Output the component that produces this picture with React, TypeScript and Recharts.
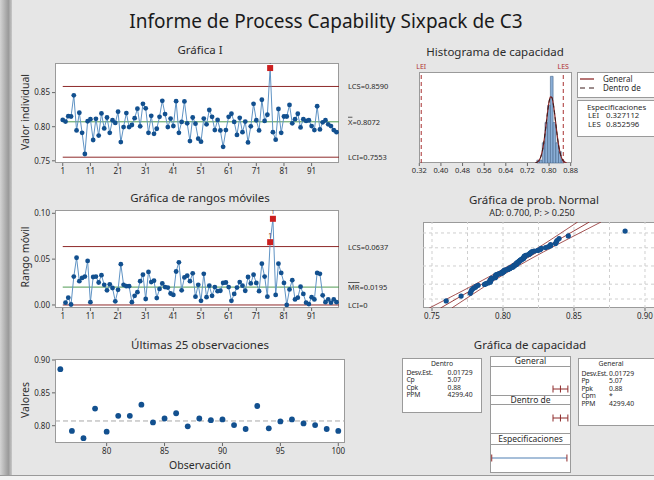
import type { ReactNode } from "react";
import {
  LineChart,
  Line,
  XAxis,
  YAxis,
  ReferenceLine,
  ScatterChart,
  Scatter,
  ComposedChart,
  ReferenceArea,
} from "recharts";

const FONT = '"Noto Sans", "Open Sans", sans-serif';
const INK = "#2b2b2b";
const LIMIT = "#8e2a2a";
const CENTER = "#4f9a52";
const DOT = "#12508f";
const TRACE = "#5f93c4";
const FLAG = "#cc1f1f";

// individual values, observations 1..100
const values = [
  0.81, 0.8075, 0.8155, 0.815, 0.846, 0.7945, 0.8205, 0.791, 0.76, 0.808,
  0.811, 0.7805, 0.8115, 0.787, 0.8195, 0.7975, 0.8135, 0.791, 0.8095, 0.8055,
  0.822, 0.7775, 0.7995, 0.82, 0.7995, 0.8025, 0.8125, 0.8265, 0.8005, 0.8335,
  0.827, 0.791, 0.816, 0.7895, 0.797, 0.8145, 0.838, 0.8185, 0.7995, 0.812,
  0.801, 0.8375, 0.791, 0.807, 0.837, 0.805, 0.779, 0.8135, 0.8045, 0.7825,
  0.778, 0.812, 0.8035, 0.8245, 0.8145, 0.795, 0.81, 0.7945, 0.7705, 0.795,
  0.8145, 0.819, 0.807, 0.788, 0.813, 0.792, 0.8075, 0.777, 0.8005, 0.8335,
  0.8095, 0.7945, 0.8395, 0.8085, 0.8175, 0.886, 0.792, 0.781, 0.826, 0.791,
  0.815, 0.815, 0.832, 0.805, 0.811, 0.819, 0.799, 0.811, 0.8085, 0.8095,
  0.801, 0.795, 0.83, 0.796, 0.8065, 0.8095, 0.8035, 0.801, 0.795, 0.792,
];

// moving ranges, observations 2..100
const movingRanges = [
  0.0025, 0.008, 0.0005, 0.031, 0.0515, 0.026, 0.0295, 0.031, 0.048,
  0.003, 0.0305, 0.031, 0.0245, 0.0325, 0.022, 0.016, 0.0225, 0.0185, 0.004,
  0.0165, 0.0445, 0.022, 0.0205, 0.0205, 0.003, 0.01, 0.014, 0.026, 0.033,
  0.0065, 0.036, 0.025, 0.0265, 0.0075, 0.0175, 0.0235, 0.0195, 0.019, 0.0125,
  0.011, 0.0365, 0.0465, 0.016, 0.03, 0.032, 0.026, 0.0345, 0.009, 0.022,
  0.0045, 0.034, 0.0085, 0.021, 0.01, 0.0195, 0.015, 0.0155, 0.024, 0.0245,
  0.0195, 0.0045, 0.012, 0.019, 0.025, 0.021, 0.0155, 0.0305, 0.0235, 0.033,
  0.024, 0.015, 0.045, 0.031, 0.009, 0.0685, 0.094, 0.011, 0.045, 0.035,
  0.024, 0.0, 0.017, 0.027, 0.006, 0.008, 0.02, 0.012, 0.0025, 0.001,
  0.0085, 0.006, 0.035, 0.034, 0.0105, 0.003, 0.006, 0.0025, 0.006, 0.003,
];

const obsTicks = [1, 11, 21, 31, 41, 51, 61, 71, 81, 91];
const iLimits = { lcs: 0.859, center: 0.8072, lci: 0.7553 };
const mrLimits = { lcs: 0.0637, center: 0.0195, lci: 0 };
const iFlagged = [76];
const mrFlagged = [76, 77];
const lastTicks = [80, 85, 90, 95, 100];

// capability histogram
const histCenters = [0.76, 0.77, 0.78, 0.79, 0.8, 0.81, 0.82, 0.83, 0.84, 0.85, 0.86, 0.87, 0.88];
const histCounts = [1, 1, 7, 14, 20, 30, 14, 7, 4, 1, 0, 0, 1];
const histBinWidth = 0.01;
const histTicks = [0.32, 0.4, 0.48, 0.56, 0.64, 0.72, 0.8, 0.88];
const curveX = [
  0.75, 0.755, 0.76, 0.765, 0.77, 0.775, 0.78, 0.785, 0.79, 0.795, 0.8, 0.805,
  0.81, 0.815, 0.82, 0.825, 0.83, 0.835, 0.84, 0.845, 0.85, 0.855, 0.86, 0.865,
];
const curveY = [
  0.1, 0.24, 0.56, 1.17, 2.28, 4.07, 6.69, 10.12, 14.07, 17.99, 21.15, 22.88,
  22.77, 20.84, 17.54, 13.58, 9.67, 6.33, 3.82, 2.11, 1.08, 0.51, 0.22, 0.09,
];
const lei = 0.327112;
const les = 0.852596;

// normal probability plot
const probTicks = [0.75, 0.8, 0.85, 0.9];
const probGridX = [0.75, 0.775, 0.8, 0.825, 0.85, 0.875, 0.9];
const probGridZ = [-2.326, -1.282, 0, 1.282, 2.326];
const fitZ = [-2.96, -2, -1, 0, 1, 2, 3.1];
const fitCenter = [0.75602, 0.77262, 0.78991, 0.8072, 0.82449, 0.84178, 0.8608];
const fitLower = [0.74812, 0.76673, 0.78575, 0.8038, 0.82033, 0.83589, 0.85258];
const fitUpper = [0.76392, 0.77851, 0.79407, 0.8106, 0.82865, 0.84767, 0.86902];

// capability plot
const capOverall = [0.7553, 0.8072, 0.8591];
const capWithin = [0.7553, 0.8072, 0.8591];
const capSpec = [lei, les];

const withinStats = [
  ["Desv.Est.", "0.01729"],
  ["Cp", "5.07"],
  ["Cpk", "0.88"],
  ["PPM", "4299.40"],
];
const overallStats = [
  ["Desv.Est.", "0.01729"],
  ["Pp", "5.07"],
  ["Ppk", "0.88"],
  ["Cpm", "*"],
  ["PPM", "4299.40"],
];

const iRows = values.map((v, i) => ({ obs: i + 1, v }));
const mrRows = movingRanges.map((v, i) => ({ obs: i + 2, v }));
const lastRows = iRows.slice(-25);
const curveRows = curveX.map((x, i) => ({ x, y: curveY[i] }));

function invNorm(p: number): number {
  const a = [-39.69683028665376, 220.9460984245205, -275.9285104469687, 138.357751867269, -30.66479806614716, 2.506628277459239];
  const b = [-54.47609879822406, 161.5858368580409, -155.6989798598866, 66.80131188771972, -13.28068155288572];
  const c = [-0.007784894002430293, -0.3223964580411365, -2.400758277161838, -2.549732539343734, 4.374664141464968, 2.938163982698783];
  const d = [0.007784695709041462, 0.3224671290700398, 2.445134137142996, 3.754408661907416];
  const lo = 0.02425;
  if (p < lo) {
    const q = Math.sqrt(-2 * Math.log(p));
    return (((((c[0] * q + c[1]) * q + c[2]) * q + c[3]) * q + c[4]) * q + c[5]) / ((((d[0] * q + d[1]) * q + d[2]) * q + d[3]) * q + 1);
  }
  if (p > 1 - lo) return -invNorm(1 - p);
  const q = p - 0.5;
  const r = q * q;
  return ((((((a[0] * r + a[1]) * r + a[2]) * r + a[3]) * r + a[4]) * r + a[5]) * q) / (((((b[0] * r + b[1]) * r + b[2]) * r + b[3]) * r + b[4]) * r + 1);
}

const sorted = [...values].sort((p, q) => p - q);
const probRows = sorted.map((x, i) => ({ x, z: invNorm((i + 1 - 0.3) / (sorted.length + 0.4)) }));
const fitRows = (xs: number[]) => xs.map((x, i) => ({ x, z: fitZ[i] }));

const tick = { fontSize: 8, fill: INK, fontFamily: FONT };
const smallTick = { fontSize: 7.5, fill: INK, fontFamily: FONT };

function Txt(props: { x: number; y: number; size?: number; rotate?: boolean; color?: string; children: ReactNode }) {
  const { x, y, size = 11.5, rotate = false, color = INK, children } = props;
  return (
    <div
      style={{
        position: "absolute",
        left: x,
        top: y,
        transform: `translate(-50%, -50%)${rotate ? " rotate(-90deg)" : ""}`,
        fontSize: size,
        color,
        whiteSpace: "nowrap",
        lineHeight: 1,
      }}
    >
      {children}
    </div>
  );
}

function Box({ x, y, w, h }: { x: number; y: number; w: number; h: number }) {
  return (
    <div
      style={{
        position: "absolute",
        left: x,
        top: y,
        width: w,
        height: h,
        background: "#fff",
        border: "1px solid #9a9a9a",
        boxSizing: "border-box",
      }}
    />
  );
}

function At({ x, y, children }: { x: number; y: number; children: ReactNode }) {
  return <div style={{ position: "absolute", left: x, top: y }}>{children}</div>;
}

function sideLabel(content: ReactNode) {
  return (props: any) => {
    const vb = props.viewBox || {};
    return (
      <text x={vb.x + vb.width + 9} y={vb.y} dy={3} fontSize={7.5} fill={INK} fontFamily={FONT}>
        {content}
      </text>
    );
  };
}

function controlDot(flagged: number[]) {
  return (props: any) => {
    const { cx, cy, payload, index } = props;
    if (cx == null || cy == null) return <g key={index} />;
    if (flagged.includes(payload.obs)) {
      return (
        <g key={index}>
          <rect x={cx - 3} y={cy - 3} width={6} height={6} fill={FLAG} />
          <text x={cx} y={cy - 4.5} textAnchor="middle" fontSize={6.5} fill="#5a2a2a" fontFamily={FONT}>
            1
          </text>
        </g>
      );
    }
    return <circle key={index} cx={cx} cy={cy} r={2.4} fill={DOT} />;
  };
}

const tickShape = (color: string) => (p: any) => (
  <line x1={p.cx} x2={p.cx} y1={p.cy - 3.5} y2={p.cy + 3.5} stroke={color} strokeWidth={1} />
);

function CapRow({ points, line, mark, x, y }: { points: number[]; line: string; mark: string; x: number; y: number }) {
  const rows = points.map((v) => ({ x: v, y: 0 }));
  return (
    <At x={x} y={y}>
      <ComposedChart width={81} height={12} data={rows} margin={{ top: 0, right: 0, left: 0, bottom: 0 }}>
        <XAxis dataKey="x" type="number" hide domain={[0.315, 0.881]} allowDataOverflow />
        <YAxis dataKey="y" type="number" hide domain={[-1, 1]} />
        <Line dataKey="y" stroke={line} strokeWidth={1} dot={false} isAnimationActive={false} />
        <Scatter dataKey="y" shape={tickShape(mark)} isAnimationActive={false} />
      </ComposedChart>
    </At>
  );
}

function StatTable(props: {
  x: number; y: number; w: number; h: number; title: string; titleX: number;
  rows: string[][]; labelX: number; valueX: number; firstRow: number; step: number; size: number;
}) {
  const { x, y, w, h, title, titleX, rows, labelX, valueX, firstRow, step, size } = props;
  return (
    <div style={{ position: "absolute", left: x, top: y, width: w, height: h, background: "#fff", border: "1px solid #9a9a9a", boxSizing: "border-box" }}>
      <svg width={w} height={h} style={{ position: "absolute", left: -1, top: -1 }}>
        <text x={titleX} y={8} textAnchor="middle" fontSize={size} fill={INK} fontFamily={FONT}>{title}</text>
        {rows.map(([k, v], i) => (
          <g key={k}>
            <text x={labelX} y={firstRow + i * step} fontSize={size} letterSpacing={-0.25} fill={INK} fontFamily={FONT}>{k}</text>
            <text x={valueX} y={firstRow + i * step} fontSize={size} fill={INK} fontFamily={FONT}>{v}</text>
          </g>
        ))}
      </svg>
    </div>
  );
}

export default function App() {
  return (
    <div
      style={{
        position: "relative",
        width: 654,
        height: 480,
        overflow: "hidden",
        background: "#e6e6e6",
        fontFamily: FONT,
      }}
    >
      <style>{"body{margin:0}"}</style>
      <div style={{ position: "absolute", left: 0, top: 0, width: 12, height: 480, background: "linear-gradient(to right, #d4d4d4, #9a9a9a 70%, #c8c8c8)" }} />
      <div style={{ position: "absolute", left: 0, top: 475, width: 654, height: 1, background: "#9a9a9a" }} />
      <div style={{ position: "absolute", left: 0, top: 476, width: 654, height: 4, background: "#f2f2f2" }} />

      <Txt x={326} y={21} size={19} color="#1a1a1a">Informe de Process Capability Sixpack de C3</Txt>

      {/* I chart */}
      <Txt x={200} y={50}>Gráfica I</Txt>
      <Txt x={25} y={112} size={10.5} rotate>Valor individual</Txt>
      <Box x={55} y={62.7} w={284} h={100} />
      <At x={25} y={50.7}>
        <LineChart width={384} height={126} data={iRows} margin={{ top: 12, right: 70, left: 0, bottom: 0 }}>
          <XAxis dataKey="obs" type="number" domain={[-1.8, 100.9]} ticks={obsTicks} interval={0} allowDataOverflow axisLine={false} tickSize={3} tickLine={{ stroke: "#666" }} tick={tick} height={14} />
          <YAxis type="number" domain={[0.7468, 0.8934]} ticks={[0.75, 0.8, 0.85]} tickFormatter={(v: number) => v.toFixed(2)} allowDataOverflow width={30} axisLine={false} tickSize={3} tickLine={{ stroke: "#666" }} tick={tick} />
          <ReferenceLine segment={[{ x: 1, y: iLimits.lcs }, { x: 100.9, y: iLimits.lcs }]} stroke={LIMIT} label={sideLabel("LCS=0.8590")} />
          <ReferenceLine segment={[{ x: 1, y: iLimits.center }, { x: 100.9, y: iLimits.center }]} stroke={CENTER} label={sideLabel(<><tspan style={{ textDecoration: "overline" }}>X</tspan>=0.8072</>)} />
          <ReferenceLine segment={[{ x: 1, y: iLimits.lci }, { x: 100.9, y: iLimits.lci }]} stroke={LIMIT} label={sideLabel("LCI=0.7553")} />
          <Line dataKey="v" stroke={TRACE} strokeWidth={1} dot={controlDot(iFlagged)} isAnimationActive={false} />
        </LineChart>
      </At>

      {/* Moving range chart */}
      <Txt x={200} y={198}>Gráfica de rangos móviles</Txt>
      <Txt x={25} y={257} size={10.5} rotate>Rango móvil</Txt>
      <Box x={55} y={210} w={284} h={98} />
      <At x={25} y={198}>
        <LineChart width={384} height={124} data={mrRows} margin={{ top: 12, right: 70, left: 0, bottom: 0 }}>
          <XAxis dataKey="obs" type="number" domain={[-1.8, 100.9]} ticks={obsTicks} interval={0} allowDataOverflow axisLine={false} tickSize={3} tickLine={{ stroke: "#666" }} tick={tick} height={14} />
          <YAxis type="number" domain={[-0.0033, 0.1036]} ticks={[0, 0.05, 0.1]} tickFormatter={(v: number) => v.toFixed(2)} allowDataOverflow width={30} axisLine={false} tickSize={3} tickLine={{ stroke: "#666" }} tick={tick} />
          <ReferenceLine segment={[{ x: 1, y: mrLimits.lcs }, { x: 100.9, y: mrLimits.lcs }]} stroke={LIMIT} label={sideLabel("LCS=0.0637")} />
          <ReferenceLine segment={[{ x: 1, y: mrLimits.center }, { x: 100.9, y: mrLimits.center }]} stroke={CENTER} label={sideLabel(<><tspan style={{ textDecoration: "overline" }}>MR</tspan>=0.0195</>)} />
          <ReferenceLine segment={[{ x: 1, y: mrLimits.lci }, { x: 100.9, y: mrLimits.lci }]} stroke={LIMIT} label={sideLabel("LCI=0")} />
          <Line dataKey="v" stroke={TRACE} strokeWidth={1} dot={controlDot(mrFlagged)} isAnimationActive={false} />
        </LineChart>
      </At>

      {/* Last 25 observations */}
      <Txt x={200} y={344.5}>Últimas 25 observaciones</Txt>
      <Txt x={25} y={400} size={10.5} rotate>Valores</Txt>
      <Txt x={200} y={465} size={10.5}>Observación</Txt>
      <Box x={55} y={359} w={290} h={84} />
      <At x={25} y={354}>
        <ScatterChart width={330} height={103} margin={{ top: 5, right: 10, left: 0, bottom: 0 }}>
          <XAxis dataKey="obs" type="number" domain={[75.54, 100.58]} ticks={lastTicks} interval={0} allowDataOverflow axisLine={false} tickSize={3} tickLine={{ stroke: "#666" }} tick={tick} height={14} />
          <YAxis dataKey="v" type="number" domain={[0.7737, 0.9015]} ticks={[0.8, 0.85, 0.9]} tickFormatter={(v: number) => v.toFixed(2)} allowDataOverflow width={30} axisLine={false} tickSize={3} tickLine={{ stroke: "#666" }} tick={tick} />
          <ReferenceLine y={iLimits.center} stroke="#a8a8a8" strokeDasharray="5 3" />
          <Scatter data={lastRows} shape={(p: any) => <circle cx={p.cx} cy={p.cy} r={2.9} fill={DOT} />} isAnimationActive={false} />
        </ScatterChart>
      </At>

      {/* Capability histogram */}
      <Txt x={495} y={52}>Histograma de capacidad</Txt>
      <Box x={419} y={72.3} w={153} h={91} />
      <At x={409} y={58.3}>
        <ComposedChart width={173} height={119} data={curveRows} margin={{ top: 14, right: 10, left: 10, bottom: 0 }}>
          <XAxis dataKey="x" type="number" domain={[0.3189, 0.8849]} ticks={histTicks} interval={0} tickFormatter={(v: number) => v.toFixed(2)} allowDataOverflow axisLine={false} tickSize={3} tickLine={{ stroke: "#666" }} tick={smallTick} height={14} />
          <YAxis type="number" hide domain={[0, 31.5]} allowDataOverflow />
          {histCenters.map((c, i) =>
            histCounts[i] > 0 ? (
              <ReferenceArea key={c} x1={c - histBinWidth / 2} x2={c + histBinWidth / 2} y1={0} y2={histCounts[i]} fill="#8aaed6" fillOpacity={1} stroke="#45648a" strokeWidth={0.6} />
            ) : null,
          )}
          <ReferenceLine x={lei} stroke="#a83232" strokeDasharray="4 3" label={{ value: "LEI", position: "top", fontSize: 7, fill: "#b03030", offset: 3 }} />
          <ReferenceLine x={les} stroke="#a83232" strokeDasharray="4 3" label={{ value: "LES", position: "top", fontSize: 7, fill: "#b03030", offset: 3 }} />
          <Line dataKey="y" type="monotone" stroke={LIMIT} strokeWidth={1.2} dot={false} isAnimationActive={false} />
          <Line dataKey="y" type="monotone" stroke="#3a1a1a" strokeWidth={1} strokeDasharray="4 3" dot={false} isAnimationActive={false} />
        </ComposedChart>
      </At>
      <div style={{ position: "absolute", left: 577, top: 72, width: 90, height: 26, background: "#fff", border: "1px solid #9a9a9a", boxSizing: "border-box" }}>
        <svg width={90} height={26} style={{ position: "absolute", left: -1, top: -1 }}>
          <line x1={3} x2={17} y1={7} y2={7} stroke={LIMIT} strokeWidth={1.3} />
          <line x1={3} x2={17} y1={16} y2={16} stroke="#3a1a1a" strokeWidth={1} strokeDasharray="5 4" />
          <text x={26} y={10} fontSize={8} fill={INK} fontFamily={FONT}>General</text>
          <text x={26} y={19} fontSize={8} fill={INK} fontFamily={FONT}>Dentro de</text>
        </svg>
      </div>
      <div style={{ position: "absolute", left: 577, top: 100, width: 90, height: 37, background: "#fff", border: "1px solid #9a9a9a", boxSizing: "border-box" }}>
        <svg width={90} height={37} style={{ position: "absolute", left: -1, top: -1 }}>
          <text x={10} y={9.5} fontSize={7.8} fill={INK} fontFamily={FONT}>Especificaciones</text>
          <text x={11} y={18} fontSize={7.8} fill={INK} fontFamily={FONT}>LEI</text>
          <text x={29} y={18} fontSize={7.8} fill={INK} fontFamily={FONT}>0.327112</text>
          <text x={11} y={26.5} fontSize={7.8} fill={INK} fontFamily={FONT}>LES</text>
          <text x={29} y={26.5} fontSize={7.8} fill={INK} fontFamily={FONT}>0.852596</text>
        </svg>
      </div>

      {/* Normal probability plot */}
      <Txt x={534} y={200}>Gráfica de prob. Normal</Txt>
      <Txt x={532} y={212} size={9}>AD: 0.700, P: &gt; 0.250</Txt>
      <Box x={423} y={222} w={240} h={86} />
      <At x={411} y={220}>
        <ComposedChart width={243} height={102} margin={{ top: 2, right: 0, left: 12, bottom: 0 }}>
          <XAxis dataKey="x" type="number" domain={[0.74366, 0.90634]} ticks={probTicks} interval={0} tickFormatter={(v: number) => v.toFixed(2)} allowDataOverflow axisLine={false} tickSize={3} tickLine={{ stroke: "#666" }} tick={tick} height={14} />
          <YAxis dataKey="z" type="number" hide domain={[-2.96, 3.1]} allowDataOverflow />
          {probGridX.map((v) => (
            <ReferenceLine key={`gx${v}`} x={v} stroke="#cfcfcf" strokeDasharray="3 3" />
          ))}
          {probGridZ.map((v) => (
            <ReferenceLine key={`gz${v}`} y={v} stroke="#cfcfcf" strokeDasharray="3 3" />
          ))}
          <Line data={fitRows(fitLower)} dataKey="z" type="monotone" stroke={LIMIT} strokeWidth={0.8} dot={false} isAnimationActive={false} />
          <Line data={fitRows(fitCenter)} dataKey="z" stroke={LIMIT} strokeWidth={0.9} dot={false} isAnimationActive={false} />
          <Line data={fitRows(fitUpper)} dataKey="z" type="monotone" stroke={LIMIT} strokeWidth={0.8} dot={false} isAnimationActive={false} />
          <Scatter data={probRows} dataKey="z" shape={(p: any) => <circle cx={p.cx} cy={p.cy} r={2.6} fill={DOT} />} isAnimationActive={false} />
        </ComposedChart>
      </At>

      {/* Capability plot */}
      <Txt x={530} y={345}>Gráfica de capacidad</Txt>
      <StatTable x={402} y={358} w={80} h={55} title="Dentro" titleX={40} rows={withinStats} labelX={4.5} valueX={45.5} firstRow={17} step={7.4} size={6.8} />
      <StatTable x={578} y={358} w={80} h={68} title="General" titleX={33} rows={overallStats} labelX={3.5} valueX={31} firstRow={18} step={7.4} size={6.8} />
      <Box x={490} y={356} w={81} h={117} />
      <div style={{ position: "absolute", left: 490, top: 365.5, width: 81, height: 1, background: "#9a9a9a" }} />
      <div style={{ position: "absolute", left: 490, top: 395, width: 81, height: 10, borderTop: "1px solid #9a9a9a", borderBottom: "1px solid #9a9a9a", boxSizing: "border-box" }} />
      <div style={{ position: "absolute", left: 490, top: 433, width: 81, height: 11.5, borderTop: "1px solid #9a9a9a", borderBottom: "1px solid #9a9a9a", boxSizing: "border-box" }} />
      <Txt x={530.5} y={361} size={8.5}>General</Txt>
      <Txt x={530.5} y={400.2} size={8.5}>Dentro de</Txt>
      <Txt x={530.5} y={438.8} size={8.5}>Especificaciones</Txt>
      <CapRow points={capOverall} line={LIMIT} mark={LIMIT} x={490} y={383} />
      <CapRow points={capWithin} line={LIMIT} mark={LIMIT} x={490} y={412.3} />
      <CapRow points={capSpec} line="#4f7fb3" mark={LIMIT} x={490} y={452.3} />
    </div>
  );
}
